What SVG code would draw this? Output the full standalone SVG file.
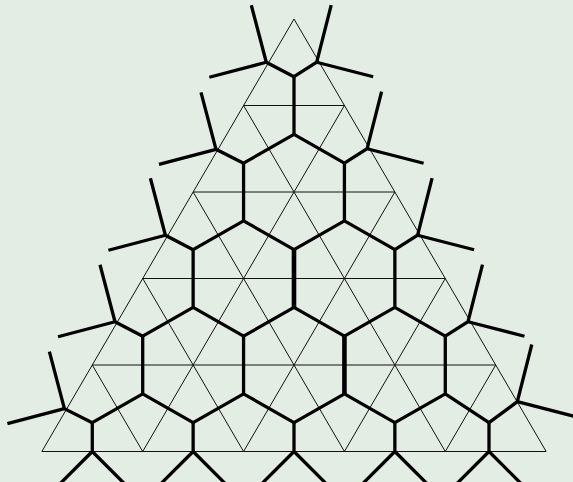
<svg xmlns="http://www.w3.org/2000/svg" width="573" height="482" viewBox="0 0 573 482">
<style>
.thin{fill:none;stroke:#111;stroke-width:1}
.thick{fill:none;stroke:#000;stroke-width:3.3;stroke-linejoin:miter;stroke-linecap:butt}
.heavy{stroke-width:4.6}
</style>
<rect width="573" height="482" fill="#e4ede4"/>
<g id="lattice" class="thin">
<path d="M243.57,105.5H344.43M193.14,192H394.86M142.71,278.5H445.29M92.28,365H495.72M41.85,451.5H546.15"/>
<path d="M41.85,451.5L294,19M142.71,451.5L344.43,105.5M243.57,451.5L394.86,192M344.43,451.5L445.29,278.5M445.29,451.5L495.72,365"/>
<path d="M546.15,451.5L294,19M445.29,451.5L243.57,105.5M344.43,451.5L193.14,192M243.57,451.5L142.71,278.5M142.71,451.5L92.28,365"/>
</g>
<g id="honeycomb" class="thick">
<path id="d10" d="M294,76.67V134.33L243.57,163.17M294,134.33L344.43,163.17"/>
<path id="d20" d="M243.57,163.17V220.83L193.14,249.67M243.57,220.83L294,249.67"/>
<path id="d21" d="M344.43,163.17V220.83L294,249.67M344.43,220.83L394.86,249.67"/>
<path id="d30" d="M193.14,249.67V307.33L142.71,336.17M193.14,307.33L243.57,336.17"/>
<path id="d31" d="M294,307.33L243.57,336.17M294,307.33L344.43,336.17"/>
<path class="heavy" d="M294,249.67V307.33"/>
<path id="d32" d="M394.86,249.67V307.33L344.43,336.17M394.86,307.33L445.29,336.17"/>
<path id="d40" d="M142.71,336.17V393.83L92.28,422.67M142.71,393.83L193.14,422.67"/>
<path id="d41" d="M243.57,336.17V393.83L193.14,422.67M243.57,393.83L294,422.67"/>
<path id="d42" d="M344.43,393.83L294,422.67M344.43,393.83L394.86,422.67"/>
<path class="heavy" d="M344.43,336.17V393.83"/>
<path id="d43" d="M445.29,336.17V393.83L394.86,422.67M445.29,393.83L489,422.67"/>
</g>
<g id="forks" class="thick">
<path d="M294,76.67L266.3,62.25l-15,-57M266.3,62.25l-57,15"/>
<path d="M243.57,163.17L216,149.3l-15,-57M216,149.3l-57,15"/>
<path d="M193.14,249.67L165.4,235.25l-15,-57M165.4,235.25l-57,15"/>
<path d="M142.71,336.17L115,321.75l-15,-57M115,321.75l-57,15"/>
<path d="M92.28,422.67L64.4,408.6l-15,-57M64.4,408.6l-57,15"/>
<path d="M294,76.67L316.7,62.25l14.5,-57.2M316.7,62.25l56.5,14.5"/>
<path d="M344.43,163.17L367.1,148.75l14.5,-57.2M367.1,148.75l56.5,14.5"/>
<path d="M394.86,249.67L417.6,235.25l14.5,-57.2M417.6,235.25l56.5,14.5"/>
<path d="M445.29,336.17L468,321.75l14.5,-57.2M468,321.75l56.5,14.5"/>
<path d="M489,422.67L517.3,401.7l14.5,-57.2M517.3,401.7l56.5,14.5"/>
<path d="M92.28,422.67V451.5l-42,42M92.28,451.5l42,42"/>
<path d="M193.14,422.67V451.5l-42,42M193.14,451.5l42,42"/>
<path d="M294,422.67V451.5l-42,42M294,451.5l42,42"/>
<path d="M394.86,422.67V451.5l-42,42M394.86,451.5l42,42"/>
<path d="M489,422.67V451.5l-42,42M489,451.5l42,42"/>
</g>
</svg>
